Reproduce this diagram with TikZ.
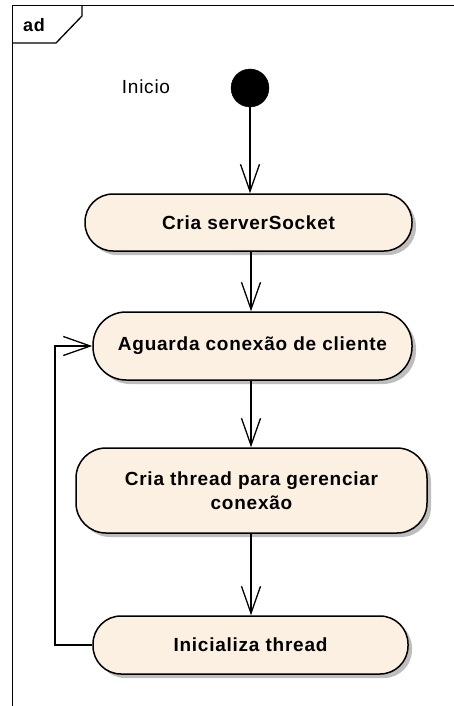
\documentclass[tikz,border=0pt]{standalone}
\usepackage{fontspec}
\setmainfont{Liberation Sans}
\newfontfamily\labfont[LetterSpace=4]{Liberation Sans}
\usetikzlibrary{arrows.meta,shadows}

\definecolor{actfill}{RGB}{251,240,225}
\definecolor{shadowgray}{RGB}{190,190,190}

\tikzset{
  frameline/.style={line width=1.3pt, black},
  action/.style={draw=black, line width=1.5pt, fill=actfill,
    drop shadow={shadow xshift=4pt, shadow yshift=-4pt, fill=shadowgray, opacity=1},
    inner sep=0pt, align=center,
    font=\labfont\bfseries\fontsize{19}{24}\selectfont},
  flow/.style={line width=1.3pt, black, -{Straight Barb[length=27pt,width=19pt,line width=1.3pt]}},
}

\begin{document}
\begin{tikzpicture}[x=1pt, y=-1pt]
  \useasboundingbox (0,0) rectangle (454,706);

  % diagram frame with its name tab
  \draw[frameline] (12.5,706) -- (12.5,5.5) -- (454,5.5);
  \draw[frameline] (12.5,43) -- (56,43) -- (82,16) -- (82,5.5);
  \node[font=\labfont\bfseries\fontsize{18}{22}\selectfont] (tab) at (34,25) {ad};

  % initial node
  \node[circle, fill=black, draw=black, minimum size=38pt, inner sep=0pt] (init) at (250,88) {};
  \node[font=\labfont\fontsize{19}{23}\selectfont] (initlabel) at (146,87) {Inicio};

  % actions
  \node[action, rounded corners=28pt, minimum width=327pt, minimum height=57pt]
    (n1) at (248.5,222.5) {Cria serverSocket};
  \node[action, rounded corners=33pt, minimum width=319pt, minimum height=68pt]
    (n2) at (252.5,346) {\raisebox{4pt}{Aguarda conexão de cliente}};
  \node[action, rounded corners=30pt, minimum width=351pt, minimum height=85pt]
    (n3) at (251.5,490.5) {Cria thread para gerenciar\\conexão};
  \node[action, rounded corners=28pt, minimum width=315pt, minimum height=58pt]
    (n4) at (250.5,645) {\raisebox{1.5pt}{Inicializa thread}};

  % control flow
  \coordinate (spine) at (251,0);
  \draw[flow] (init.south) -- (init.south |- n1.north);
  \draw[flow] (n1.south -| spine) -- (n2.north -| spine);
  \draw[flow] (n2.south -| spine) -- (n3.north -| spine);
  \draw[flow] (n3.south -| spine) -- (n4.north -| spine);
  \coordinate (loopx) at (55,0);
  \draw[flow] (n4.west) -- (n4.west -| loopx) -- (n2.west -| loopx) -- (n2.west);
\end{tikzpicture}
\end{document}
